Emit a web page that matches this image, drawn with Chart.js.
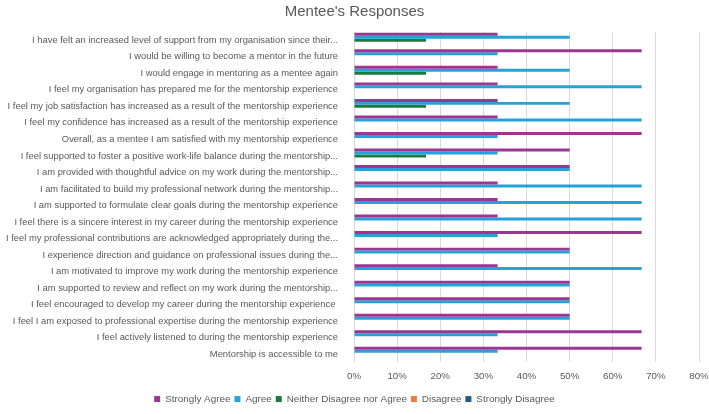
<!DOCTYPE html>
<html>
<head>
<meta charset="utf-8">
<script src="https://cdn.jsdelivr.net/npm/chart.js@4"></script>
<style>
  html, body { margin: 0; padding: 0; background: #fff; }
  #wrap { width: 709px; height: 414px; }
</style>
</head>
<body>
<div id="wrap"><canvas id="menteeChart" width="709" height="414"></canvas></div>
<script>
// Questions, top to bottom
const questions = [
    "I have felt an increased level of support from my organisation since their...",
    "I would be willing to become a mentor in the future",
    "I would engage in mentoring as a mentee again",
    "I feel my organisation has prepared me for the mentorship experience",
    "I feel my job satisfaction has increased as a result of the mentorship experience",
    "I feel my confidence has increased as a result of the mentorship experience",
    "Overall, as a mentee I am satisfied with my mentorship experience",
    "I feel supported to foster a positive work-life balance during the mentorship...",
    "I am provided with thoughtful advice on my work during the mentorship...",
    "I am facilitated to build my professional network during the mentorship...",
    "I am supported to formulate clear goals during the mentorship experience",
    "I feel there is a sincere interest in my career during the mentorship experience",
    "I feel my professional contributions are acknowledged appropriately during the...",
    "I experience direction and guidance on professional issues during the...",
    "I am motivated to improve my work during the mentorship experience",
    "I am supported to review and reflect on my work during the mentorship...",
    "I feel encouraged to develop my career during the mentorship experience ",
    "I feel I am exposed to professional expertise during the mentorship experience",
    "I feel actively listened to during the mentorship experience",
    "Mentorship is accessible to me"
];

// Percent of responses
const stronglyAgree = [33.3, 66.7, 33.3, 33.3, 33.3, 33.3, 66.7, 50, 50, 33.3, 33.3, 33.3, 66.7, 50, 33.3, 50, 50, 50, 66.7, 66.7];
const agree         = [50, 33.3, 50, 66.7, 50, 66.7, 33.3, 33.3, 50, 66.7, 66.7, 66.7, 33.3, 50, 66.7, 50, 50, 50, 33.3, 33.3];
const neither       = [16.7, 0, 16.7, 0, 16.7, 0, 0, 16.7, 0, 0, 0, 0, 0, 0, 0, 0, 0, 0, 0, 0];
const disagree      = [0, 0, 0, 0, 0, 0, 0, 0, 0, 0, 0, 0, 0, 0, 0, 0, 0, 0, 0, 0];
const stronglyDisagree = [0, 0, 0, 0, 0, 0, 0, 0, 0, 0, 0, 0, 0, 0, 0, 0, 0, 0, 0, 0];

const xTicks = [0, 10, 20, 30, 40, 50, 60, 70, 80];

const textColor = '#595959';
const fontFamily = '"Liberation Sans", Arial, sans-serif';

function bar(label, data, color) {
    return {
        label: label,
        data: data,
        backgroundColor: color,
        borderWidth: 0,
        barPercentage: 1.0,
        categoryPercentage: 0.9
    };
}

new Chart(document.getElementById('menteeChart').getContext('2d'), {
    type: 'bar',
    data: {
        labels: questions,
        datasets: [
            bar('Strongly Agree', stronglyAgree, '#9b3692'),
            bar('Agree', agree, '#26a2da'),
            bar('Neither Disagree nor Agree', neither, '#1e7a3c'),
            bar('Disagree', disagree, '#ee7d3a'),
            bar('Strongly Disagree', stronglyDisagree, '#1f5c80')
        ]
    },
    options: {
        indexAxis: 'y',
        responsive: false,
        animation: false,
        layout: { padding: { top: 3, right: 0, bottom: 0, left: 0 } },
        plugins: {
            title: {
                display: true,
                text: "Mentee's Responses",
                color: textColor,
                font: { family: fontFamily, size: 15, weight: 'normal' },
                padding: { top: 0, bottom: 11 }
            },
            legend: {
                position: 'bottom',
                labels: {
                    color: textColor,
                    font: { family: fontFamily, size: 9.9 },
                    boxWidth: 6,
                    boxHeight: 6,
                    padding: 4
                }
            },
            tooltip: { enabled: false }
        },
        scales: {
            x: {
                min: 0,
                max: 80,
                afterBuildTicks: function (scale) {
                    scale.ticks = xTicks.map(v => ({ value: v }));
                },
                afterFit: function (scale) {
                    scale.paddingRight = 10;
                    scale.paddingLeft = 0;
                },
                grid: { color: '#d9d9d9', drawTicks: false },
                border: { display: false },
                ticks: {
                    color: textColor,
                    font: { family: fontFamily, size: 9.7 },
                    padding: 8,
                    callback: v => v + '%'
                }
            },
            y: {
                grid: { display: false },
                border: { display: false },
                afterFit: function (scale) { scale.width = 354; },
                ticks: {
                    color: textColor,
                    font: { family: fontFamily, size: 9.4 },
                    padding: 8,
                    autoSkip: false
                }
            }
        }
    }
});
</script>
</body>
</html>
